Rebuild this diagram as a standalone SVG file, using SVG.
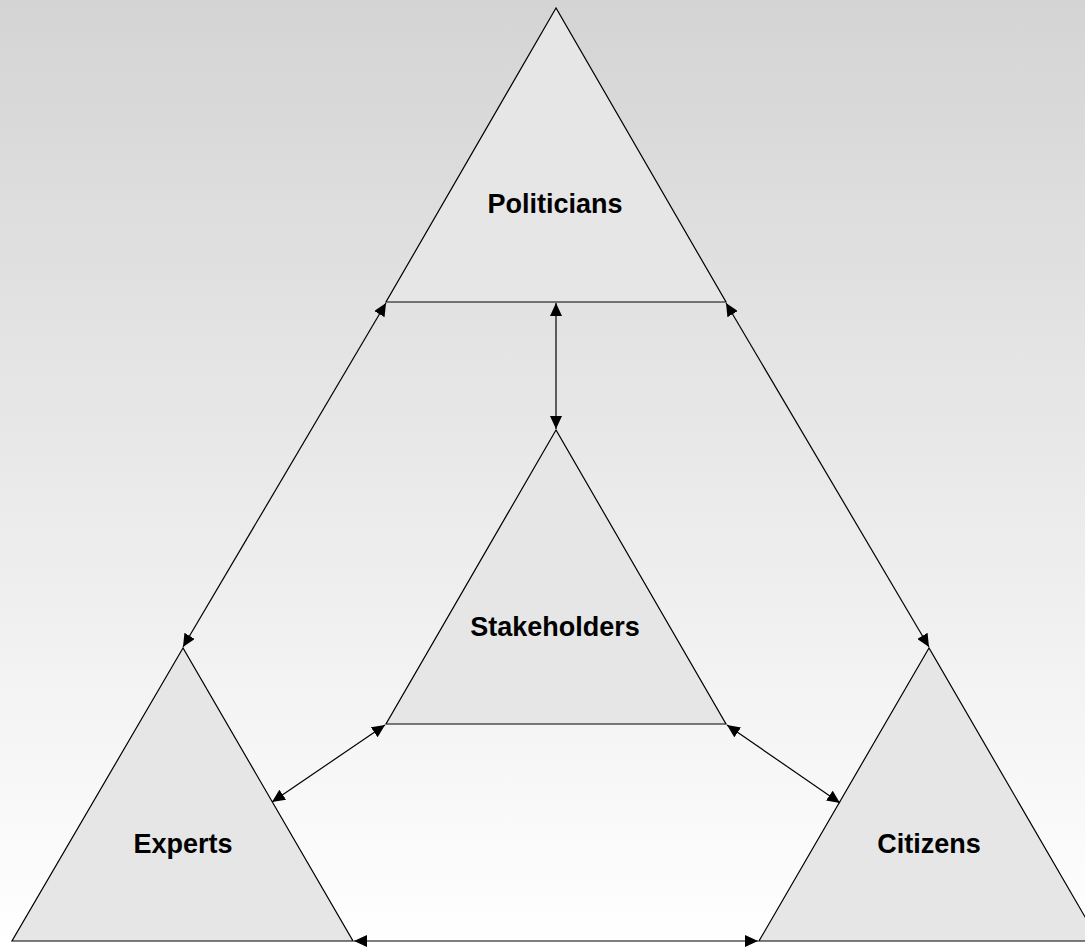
<svg xmlns="http://www.w3.org/2000/svg" width="1085" height="947" viewBox="0 0 1085 947">
<defs>
<linearGradient id="bg" x1="0" y1="0" x2="0" y2="1">
<stop offset="0" stop-color="#d4d4d4"/>
<stop offset="1" stop-color="#ffffff"/>
</linearGradient>
<marker id="ah" viewBox="0 0 13 12" refX="13" refY="6" markerWidth="13" markerHeight="12" markerUnits="userSpaceOnUse" orient="auto-start-reverse">
<path d="M0,0 L13,6 L0,12 Z" fill="#000"/>
</marker>
<style>
.tri{fill:#e6e6e6;stroke:#000;stroke-width:1.2}
.lbl{font-family:"Liberation Sans",Arial,sans-serif;font-weight:bold;font-size:27px;fill:#000;text-anchor:middle}
.con{stroke:#000;stroke-width:1.2;fill:none;marker-start:url(#ah);marker-end:url(#ah)}
</style>
</defs>
<rect x="0" y="0" width="1085" height="947" fill="url(#bg)"/>
<g id="politicians">
<polygon class="tri" points="556,8 386,302 726,302"/>
<text class="lbl" x="555" y="213">Politicians</text>
</g>
<g id="stakeholders">
<polygon class="tri" points="556,430 386,724 726,724"/>
<text class="lbl" x="555" y="636">Stakeholders</text>
</g>
<g id="experts">
<polygon class="tri" points="183,648 12,941 353,941"/>
<text class="lbl" x="183" y="853">Experts</text>
</g>
<g id="citizens">
<polygon class="tri" points="929,648 759,941 1099,941"/>
<text class="lbl" x="929" y="853">Citizens</text>
</g>
<g id="connectors">
<line class="con" x1="556" y1="303" x2="556" y2="429"/>
<line class="con" x1="386" y1="303" x2="183" y2="647"/>
<line class="con" x1="726" y1="303" x2="929" y2="647"/>
<line class="con" x1="385" y1="725" x2="272" y2="802"/>
<line class="con" x1="727" y1="725" x2="840" y2="803"/>
<line class="con" x1="354" y1="941" x2="758" y2="941"/>
</g>
</svg>
